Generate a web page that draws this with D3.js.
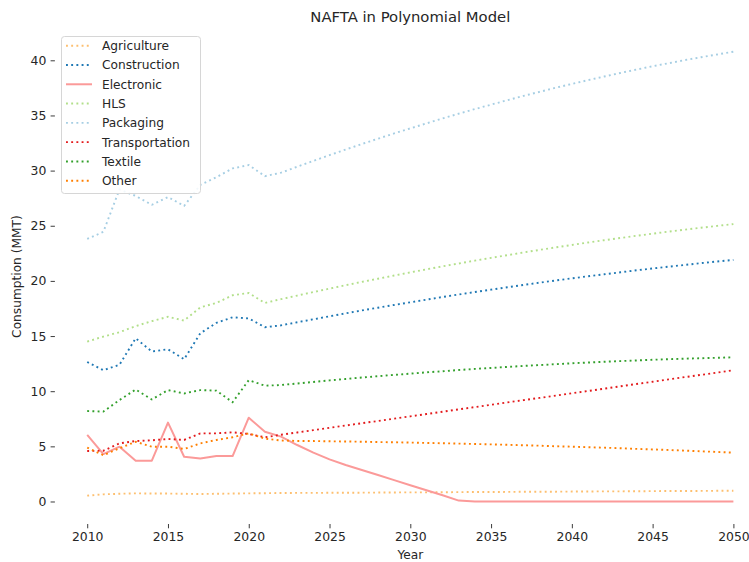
<!DOCTYPE html>
<html>
<head>
<meta charset="utf-8">
<script src="https://cdn.jsdelivr.net/npm/d3@7"></script>
<style>
  body { margin: 0; background: #fff; }
  svg { display: block; }
  text { font-family: "DejaVu Sans", sans-serif; fill: #262626; }
</style>
</head>
<body>
<svg id="chart" width="749" height="562"></svg>
<script>
// Years covered by history (2010-2021) and polynomial projection (2022-2050)
const years = [2010, 2011, 2012, 2013, 2014, 2015, 2016, 2017, 2018, 2019,
  2020, 2021, 2022, 2023, 2024, 2025, 2026, 2027, 2028, 2029,
  2030, 2031, 2032, 2033, 2034, 2035, 2036, 2037, 2038, 2039,
  2040, 2041, 2042, 2043, 2044, 2045, 2046, 2047, 2048, 2049, 2050];

// Consumption (MMT) per sector
const agriculture = [0.53, 0.65, 0.70, 0.74, 0.72, 0.72, 0.70, 0.68, 0.70, 0.72,
  0.74, 0.75, 0.77, 0.78, 0.78, 0.79, 0.80, 0.80, 0.81, 0.82,
  0.83, 0.83, 0.84, 0.85, 0.86, 0.86, 0.87, 0.88, 0.89, 0.89,
  0.90, 0.91, 0.92, 0.92, 0.93, 0.94, 0.95, 0.95, 0.96, 0.97, 0.98];
const construction = [12.65, 11.9, 12.4, 14.8, 13.6, 13.8, 12.9, 15.25, 16.2, 16.7,
  16.6, 15.8, 15.97, 16.25, 16.52, 16.79, 17.06, 17.32, 17.57, 17.82,
  18.06, 18.30, 18.54, 18.77, 18.99, 19.21, 19.42, 19.63, 19.84, 20.04,
  20.23, 20.42, 20.60, 20.78, 20.96, 21.13, 21.29, 21.45, 21.61, 21.76, 21.90];
const electronic = [6.05, 4.3, 4.97, 3.7, 3.7, 7.15, 4.06, 3.9, 4.12, 4.12,
  7.6, 6.33, 5.88, 5.12, 4.43, 3.82, 3.31, 2.86, 2.4, 1.94,
  1.48, 1.02, 0.56, 0.08, 0, 0, 0, 0, 0, 0,
  0, 0, 0, 0, 0, 0, 0, 0, 0, 0, 0];
const hls = [14.5, 14.95, 15.35, 15.9, 16.35, 16.75, 16.4, 17.6, 18.0, 18.7,
  18.9, 18.0, 18.35, 18.67, 18.99, 19.30, 19.61, 19.91, 20.20, 20.49,
  20.77, 21.05, 21.32, 21.58, 21.84, 22.09, 22.33, 22.58, 22.81, 23.04,
  23.26, 23.48, 23.69, 23.89, 24.09, 24.28, 24.47, 24.65, 24.82, 24.99, 25.15];
const packaging = [23.8, 24.45, 28.3, 27.7, 26.9, 27.6, 26.8, 28.7, 29.4, 30.2,
  30.5, 29.5, 29.81, 30.35, 30.88, 31.40, 31.91, 32.41, 32.89, 33.37,
  33.83, 34.28, 34.73, 35.16, 35.58, 35.98, 36.38, 36.77, 37.14, 37.51,
  37.86, 38.20, 38.53, 38.85, 39.16, 39.46, 39.74, 40.02, 40.28, 40.53, 40.78];
const transportation = [4.58, 4.6, 5.27, 5.48, 5.55, 5.67, 5.58, 6.18, 6.18, 6.27,
  6.12, 5.82, 6.05, 6.26, 6.47, 6.68, 6.89, 7.10, 7.30, 7.51,
  7.72, 7.93, 8.14, 8.35, 8.56, 8.77, 8.98, 9.19, 9.39, 9.60,
  9.81, 10.02, 10.23, 10.44, 10.65, 10.86, 11.07, 11.28, 11.48, 11.69, 11.90];
const textile = [8.2, 8.15, 9.2, 10.15, 9.25, 10.1, 9.8, 10.1, 10.05, 9.0,
  11.0, 10.5, 10.56, 10.70, 10.84, 10.98, 11.11, 11.24, 11.36, 11.48,
  11.59, 11.71, 11.81, 11.92, 12.02, 12.11, 12.20, 12.29, 12.37, 12.45,
  12.53, 12.60, 12.67, 12.73, 12.79, 12.85, 12.90, 12.95, 12.99, 13.03, 13.07];
const other = [4.88, 4.2, 4.82, 5.42, 4.97, 4.97, 4.76, 5.27, 5.58, 5.82,
  6.18, 5.7, 5.53, 5.49, 5.48, 5.46, 5.44, 5.42, 5.39, 5.37,
  5.34, 5.31, 5.28, 5.25, 5.21, 5.18, 5.14, 5.10, 5.06, 5.01,
  4.97, 4.92, 4.88, 4.83, 4.77, 4.72, 4.67, 4.61, 4.55, 4.49, 4.43];

const sectorNames = ["Agriculture", "Construction", "Electronic", "HLS",
  "Packaging", "Transportation", "Textile", "Other"];
const sectorValues = [agriculture, construction, electronic, hls,
  packaging, transportation, textile, other];

const xTickValues = [2010, 2015, 2020, 2025, 2030, 2035, 2040, 2045, 2050];
const yTickValues = [0, 5, 10, 15, 20, 25, 30, 35, 40];

const titleText = "NAFTA in Polynomial Model";
const xLabel = "Year";
const yLabel = "Consumption (MMT)";

// Styling (Paired palette, dotted lines except Electronic)
const colors = ["#fdbf6f", "#1f78b4", "#fb9a99", "#b2df8a",
  "#a6cee3", "#e31a1c", "#33a02c", "#ff7f00"];
const solid = { Electronic: true };

const svg = d3.select("#chart");
const plot = { left: 54.9, right: 765.7, top: 29.2, bottom: 524 };

const x = d3.scaleLinear().domain([2008, 2052]).range([plot.left, plot.right]);
const y = d3.scaleLinear().domain([-2.04, 42.82]).range([plot.bottom, plot.top]);

const tickFont = "12.4px";

// Y axis (no spine, ticks only)
const yAxis = svg.append("g")
  .attr("transform", `translate(${plot.left},0)`)
  .call(d3.axisLeft(y).tickValues(yTickValues).tickSize(4.3).tickPadding(4.3).tickFormat(d3.format("d")));
yAxis.select(".domain").remove();
yAxis.selectAll("line").attr("stroke", "#262626").attr("stroke-width", 0.9);
yAxis.selectAll("text").attr("font-size", tickFont).attr("font-family", "DejaVu Sans").attr("fill", "#262626");

// X axis
const xAxis = svg.append("g")
  .attr("transform", `translate(0,${plot.bottom})`)
  .call(d3.axisBottom(x).tickValues(xTickValues).tickSize(4.3).tickPadding(4.3).tickFormat(d3.format("d")));
xAxis.select(".domain").remove();
xAxis.selectAll("line").attr("stroke", "#262626").attr("stroke-width", 0.9);
xAxis.selectAll("text").attr("font-size", tickFont).attr("font-family", "DejaVu Sans").attr("fill", "#262626");

// Axis titles and chart title
svg.append("text")
  .attr("x", (plot.left + plot.right) / 2).attr("y", 558.5)
  .attr("text-anchor", "middle").attr("font-size", "12.2px")
  .text(xLabel);
svg.append("text")
  .attr("transform", `translate(21,${(plot.top + plot.bottom) / 2}) rotate(-90)`)
  .attr("text-anchor", "middle").attr("font-size", "12.2px")
  .text(yLabel);
svg.append("text")
  .attr("x", (plot.left + plot.right) / 2).attr("y", 22)
  .attr("text-anchor", "middle").attr("font-size", "14.8px")
  .text(titleText);

// Series lines
const line = d3.line()
  .x((d, i) => x(years[i]))
  .y(d => y(d));

sectorNames.forEach((name, k) => {
  const path = svg.append("path")
    .datum(sectorValues[k])
    .attr("d", line)
    .attr("fill", "none")
    .attr("stroke", colors[k]);
  if (solid[name]) {
    path.attr("stroke-width", 2).attr("stroke-linejoin", "round");
  } else {
    path.attr("stroke-width", 1.9).attr("stroke-dasharray", "1.9 3.3");
  }
});

// Legend
const legend = svg.append("g");
legend.append("rect")
  .attr("x", 61.5).attr("y", 36.5).attr("width", 139).attr("height", 157)
  .attr("rx", 3).attr("fill", "#fff").attr("fill-opacity", 0.85)
  .attr("stroke", "#d6d6d6").attr("stroke-width", 1);

sectorNames.forEach((name, k) => {
  const cy = 45.7 + k * 19.29;
  const s = legend.append("line")
    .attr("x1", 66).attr("x2", 92).attr("y1", cy).attr("y2", cy)
    .attr("stroke", colors[k]);
  if (solid[name]) s.attr("stroke-width", 2);
  else s.attr("stroke-width", 1.9).attr("stroke-dasharray", "1.9 3.3");
  legend.append("text")
    .attr("x", 102).attr("y", cy).attr("dy", "0.36em")
    .attr("font-size", "12.2px")
    .text(name);
});
</script>
</body>
</html>
